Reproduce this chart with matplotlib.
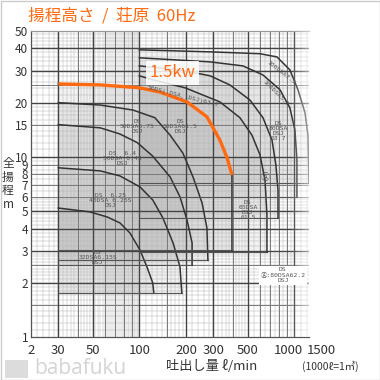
import numpy as np
import matplotlib
matplotlib.use('Agg')
import matplotlib.pyplot as plt
from matplotlib.patches import Rectangle
from matplotlib.transforms import ScaledTranslation

plt.rcParams['font.family'] = ['Noto Sans CJK JP', 'DejaVu Sans']

# pump curves: flow (l/min) and head (m)
q_32 = [30, 48, 62, 75, 87, 101, 112, 122, 124]
h_32 = [5.2, 4.95, 4.64, 4.3, 3.78, 3.04, 2.45, 2.0, 1.76]
q_40 = [30, 56, 75, 101, 122, 142, 165, 183, 188]
h_40 = [8.7, 8.36, 7.84, 6.81, 5.77, 4.58, 3.33, 2.45, 1.76]
q_50a = [30, 56, 75, 97, 122, 158, 183, 203, 219, 219]
h_50a = [15.1, 14.5, 13.4, 12.0, 10.1, 7.74, 6.0, 4.47, 3.33, 2.51]
q_50b = [30, 56, 91, 126, 158, 191, 222, 254, 273, 277]
h_50b = [20.0, 19.4, 18.2, 16.5, 13.2, 10.5, 7.74, 5.55, 4.03, 2.68]
q_15kw = [30, 56, 100, 136, 203, 273, 331, 368, 396]
h_15kw = [25.4, 25.1, 24.2, 22.9, 20.2, 16.7, 12.4, 9.9, 7.94]
q_65 = [100, 122, 197, 331, 446, 533, 600, 647, 666, 666]
h_65 = [28.2, 26.8, 24.2, 20.2, 16.5, 13.2, 10.3, 7.45, 4.76, 2.97]
q_80 = [100, 183, 286, 384, 517, 628, 718, 761, 785, 785]
h_80 = [32.0, 30.4, 28.2, 25.1, 20.7, 16.5, 12.4, 9.0, 6.55, 4.58]
q_100a = [100, 286, 466, 628, 808, 937, 1009, 1040, 1040]
h_100a = [35.5, 33.7, 32.0, 28.5, 23.6, 18.7, 14.1, 9.6, 6.0]
q_100b = [100, 286, 600, 773, 937, 1056, 1172, 1225, 1244]
h_100b = [39.3, 38.3, 37.4, 35.9, 30.4, 23.6, 17.6, 13.2, 7.17]

# lowest head of each shaded operating range
base_heads = [1.76, 1.76, 2.51, 2.68, 3.04, 2.97, 4.58, 6.0, 7.17]

x_ticks = [20, 30, 50, 100, 200, 300, 500, 1000]
x_labels = ['2', '30', '50', '100', '200', '300', '500', '1000']
y_ticks = [1, 2, 3, 4, 5, 6, 7, 8, 9, 10, 15, 20, 30, 40, 50]

ORANGE = '#ff6a10'
SYM = ['DejaVu Sans Mono', 'Noto Sans CJK JP', 'DejaVu Sans']

curves = [(q_32, h_32), (q_40, h_40), (q_50a, h_50a), (q_50b, h_50b),
          (q_15kw, h_15kw), (q_65, h_65), (q_80, h_80),
          (q_100a, h_100a), (q_100b, h_100b)]

fig = plt.figure(figsize=(3.8, 3.8), dpi=100)
ax = fig.add_axes([31 / 380, 1 - 337 / 380, 278 / 380, 306 / 380])
ax.set_xscale('log')
ax.set_yscale('log')

# dense graph-paper grid
x_minor = np.concatenate([np.arange(22, 100, 2), np.arange(110, 200, 10),
                          np.arange(220, 500, 20), np.arange(550, 1000, 50),
                          np.arange(1100, 1250, 100)])
y_minor = np.concatenate([np.arange(1.1, 3, 0.1), np.arange(3.2, 6, 0.2),
                          np.arange(6.5, 10, 0.5), np.arange(11, 20, 1),
                          np.arange(22, 50, 2)])
for v in x_minor:
    ax.axvline(v, color='#b4b4b4', lw=0.35, zorder=2)
for v in y_minor:
    ax.axhline(v, color='#b4b4b4', lw=0.35, zorder=2)
for v in [40, 60, 70, 80, 90, 150, 400, 600, 700, 800, 900]:
    ax.axvline(v, color='#7a7a7a', lw=0.7, zorder=2)
for v in [1.5, 2.5, 6, 7, 8, 9, 15, 25]:
    ax.axhline(v, color='#7a7a7a', lw=0.7, zorder=2)
for v in [30, 50, 100, 200, 300, 500, 1000]:
    ax.axvline(v, color='#444444', lw=1.0, zorder=2)
for v in [2, 3, 4, 5, 10, 20, 30, 40]:
    ax.axhline(v, color='#444444', lw=1.0, zorder=2)

# shaded operating ranges and their curves
for (q, h), base in zip(curves, base_heads):
    ax.fill_between(q, base, h, color='#808080', alpha=0.1, lw=0, zorder=1)
    ax.plot([q[0], q[-1]], [base, base], color='#555555', lw=0.8, zorder=3)
    ax.plot(q + [q[-1]], h + [base], color='#333333', lw=1.1, zorder=3)

ax.plot(q_15kw, h_15kw, color=ORANGE, lw=2.4, zorder=5, solid_capstyle='butt')

# fade at the right edge
fade = np.ones((1, 50, 4))
fade[0, :, 3] = np.linspace(0, 0.55, 50)
ax.imshow(fade, extent=(0.93, 1, 0, 1), transform=ax.transAxes,
          aspect='auto', zorder=4)
ax.set_xlim(20, 1244)
ax.set_ylim(1, 50)

lab = dict(fontsize=4.6, color='#555555', family=SYM,
           ha='center', va='center', zorder=6, linespacing=1.0)
ax.text(97, 14.8, 'DS\n50DSA6.75\nDSJ', **lab)
ax.text(183, 14.8, 'DS\n50DSA61.5\nDSJ', **lab)
ax.text(78, 9.75, 'DS  6.4\n50DSA 6.4S\nDSJ', **lab)
ax.text(65, 5.7, 'DS  6.25\n40DSA 6.25S\nDSJ', **lab)
ax.text(54, 2.75, 'DS\n32DSA6.15S\nDSJ', **lab)
ax.text(502, 5.1, 'DS\n65DSA\nDSJ\n61.5', **lab)
ax.text(785, 13.9, 'DS\n80DSA\nDSJ\n63.7', **lab)
ax.text(190, 21.6, '50DS(.DSA,.DSJ)63.7', rotation=-14, **lab)
ax.text(820, 29.5, '100DSA7.5', rotation=-38, **lab)
ax.text(760, 22.5, '100DSA5.5', rotation=-45, **lab)
ax.text(647, 7.65, 'Ⓐ', **dict(lab, fontsize=6.5, family=['Noto Sans CJK JP', 'DejaVu Sans']))
ax.text(845, 2.2, 'DS\nⒶ:80DSA62.2\nDSJ',
        **dict(lab, bbox=dict(facecolor='white', edgecolor='none', pad=1)))

ax.text(163, 29.3, '1.5kw', fontsize=12, color=ORANGE, ha='center',
        va='center', zorder=7,
        bbox=dict(facecolor='white', edgecolor='none', alpha=0.85, pad=2.5))

# axes styling
ax.set_xticks(x_ticks)
ax.set_xticklabels(x_labels)
ax.set_yticks(y_ticks)
ax.set_yticklabels([str(v) for v in y_ticks])
ax.minorticks_off()
ax.tick_params(length=0, labelsize=8.5, colors='#333333')
ax.tick_params(axis='x', pad=5, labelsize=9.5)
ax.tick_params(axis='y', pad=2)
for t in ax.get_xticklabels():
    if t.get_text() == '1000':
        t.set_transform(t.get_transform() + ScaledTranslation(-6 / 100, 0, fig.dpi_scale_trans))
ax.annotate('1500', xy=(1490, 0), xycoords=('data', 'axes fraction'),
            xytext=(0, -5), textcoords='offset points', fontsize=9.5,
            color='#333333', ha='center', va='top', annotation_clip=False)
for s in ax.spines.values():
    s.set_color('#555555')
    s.set_linewidth(0.9)
ax.spines['right'].set_visible(False)
ax.spines['top'].set_color('#999999')

fig.text(28 / 380, 1 - 16 / 380, '揚程高さ  /  荘原  60Hz', color=ORANGE,
         fontsize=12, ha='left', va='center')
fig.text(8 / 380, 1 - 184 / 380, '全\n揚\n程\nm', fontsize=8.5, color='#333333',
         ha='center', va='center', linespacing=1.05)
fig.text(212 / 380, 1 - 366 / 380, '吐出し量 ℓ/min', fontsize=9.5,
         color='#333333', ha='center', va='center')
fig.text(330 / 380, 1 - 366 / 380, '(1000ℓ=1㎥)', fontsize=7.5,
         color='#333333', ha='center', va='center')
fig.text(34 / 380, 1 - 368 / 380, 'babafuku', fontsize=15, color='#d4d4d4',
         ha='left', va='center', family=['Open Sans', 'DejaVu Sans'])
fig.patches.append(Rectangle((5 / 380, 1 - 378 / 380), 23 / 380, 18 / 380,
                             transform=fig.transFigure, facecolor='#dcdcdc',
                             edgecolor='none'))
fig.patches.append(Rectangle((0.5 / 380, 0.5 / 380), 379 / 380, 379 / 380,
                             transform=fig.transFigure, facecolor='none',
                             edgecolor='#cccccc', lw=1))

fig.savefig('out.png', dpi=100)
